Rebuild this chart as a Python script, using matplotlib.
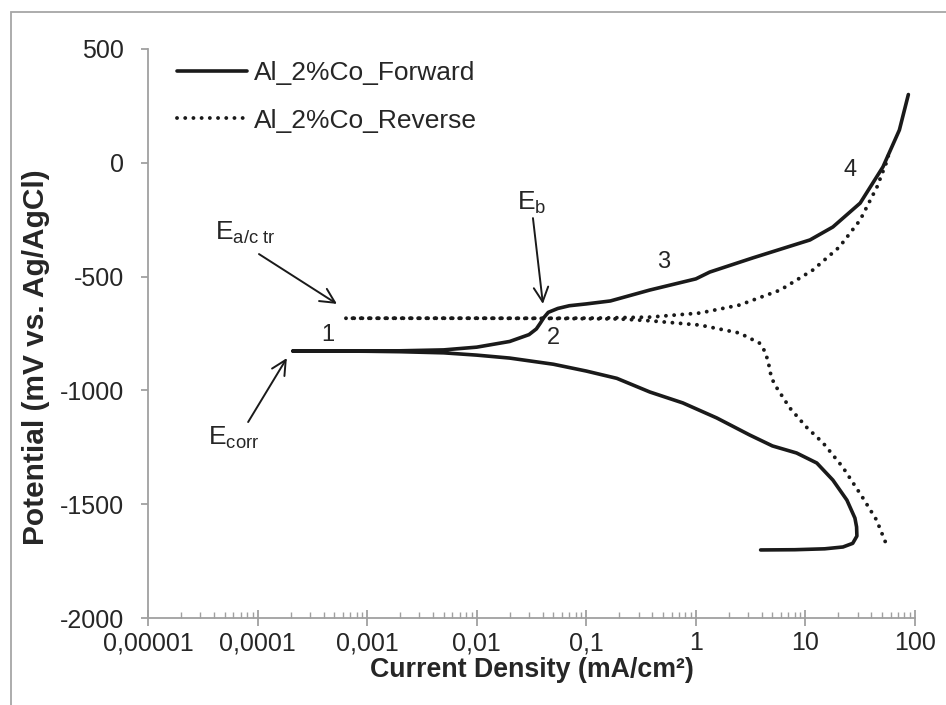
import numpy as np
import matplotlib
matplotlib.use("Agg")
import matplotlib.pyplot as plt
from matplotlib.patches import Rectangle
from matplotlib.ticker import FixedLocator, LogLocator, NullFormatter

plt.rcParams['font.family'] = ['Liberation Sans', 'DejaVu Sans']
plt.rcParams['mathtext.fontset'] = 'custom'
plt.rcParams['mathtext.rm'] = 'Liberation Sans'
plt.rcParams['mathtext.it'] = 'Liberation Sans'
plt.rcParams['axes.unicode_minus'] = False

# Forward scan: cathodic branch -> Ecorr -> anodic branch (mA/cm2, mV)
fwd_current = [3.9, 8.0, 15.0, 22.0, 27.0, 29.5, 29.3, 28.3, 23.9, 17.8, 12.7, 8.3, 5.0,
               3.1, 1.55, 0.76, 0.38, 0.19, 0.1, 0.05, 0.02, 0.01, 0.005, 0.002, 0.001,
               0.0005, 0.00021,
               0.0005, 0.001, 0.002, 0.005, 0.01, 0.02, 0.03, 0.035, 0.038, 0.041, 0.045,
               0.055, 0.07, 0.1, 0.166, 0.38, 1.0, 1.34, 3.3, 11.0, 17.8, 31.6, 51.0, 72.0, 87.0]
fwd_potential = [-1701, -1700, -1696, -1688, -1672, -1640, -1600, -1561, -1482, -1394, -1319, -1275, -1244,
                 -1196, -1121, -1055, -1007, -947, -915, -885, -858, -845, -835, -830, -828,
                 -827, -827,
                 -827, -827, -826, -822, -810, -785, -755, -730, -705, -680, -657,
                 -640, -628, -620, -607, -559, -510, -480, -418, -339, -282, -177, -18, 144, 300]

# Reverse scan: anodic branch down to the a/c transition, then cathodic branch
rev_current = [57.0, 55.0, 45.0, 31.6, 20.4, 11.7, 5.9, 2.5, 1.09, 0.38, 0.13, 0.05, 0.01, 0.002, 0.00063,
               0.002, 0.01, 0.05, 0.2, 0.38, 1.09, 2.5, 3.8, 4.3, 4.6, 4.9, 5.5, 7.2, 10.2, 14.5,
               21.9, 33.0, 44.5, 56.0]
rev_potential = [30, 3, -106, -251, -370, -471, -559, -625, -660, -678, -682, -683, -683, -683, -683,
                 -683, -683, -684, -686, -694, -713, -748, -792, -831, -880, -946, -990, -1077, -1161, -1231,
                 -1337, -1468, -1569, -1688]

x_ticks = [1e-5, 1e-4, 1e-3, 1e-2, 1e-1, 1, 10, 100]
x_tick_labels = ['0,00001', '0,0001', '0,001', '0,01', '0,1', '1', '10', '100']
y_ticks = [-2000, -1500, -1000, -500, 0, 500]

W, H = 946, 705
fig = plt.figure(figsize=(W / 100, H / 100), dpi=100)
ax = fig.add_axes([148 / W, 1 - 618 / H, (915 - 148) / W, (618 - 49) / H])

# outer chart frame
fig.patches.append(Rectangle((11 / W, -0.2), 1.5, 1.2 - 12 / H, transform=fig.transFigure,
                             fill=False, edgecolor='#a6a6a6', lw=1.3))

text_col = '#262626'
axis_col = '#a0a0a0'

ax.plot(rev_current, rev_potential, color='#1a1a1a', lw=2.8,
        linestyle=(0, (0.01, 2.1)), dash_capstyle='round', label='Al_2%Co_Reverse', zorder=2)
ax.plot(fwd_current, fwd_potential, color='#1a1a1a', lw=2.6, solid_capstyle='round',
        solid_joinstyle='round', label='Al_2%Co_Forward', zorder=3)

ax.set_xscale('log')
ax.set_xlim(1e-5, 100)
ax.set_ylim(-2000, 500)
ax.xaxis.set_major_locator(FixedLocator(x_ticks))
ax.set_xticklabels(x_tick_labels)
ax.xaxis.set_minor_locator(LogLocator(base=10, subs=np.arange(2, 10)))
ax.xaxis.set_minor_formatter(NullFormatter())
ax.set_yticks(y_ticks)

for s in ['top', 'right']:
    ax.spines[s].set_visible(False)
for s in ['left', 'bottom']:
    ax.spines[s].set_color(axis_col)
    ax.spines[s].set_linewidth(1.3)

ax.tick_params(axis='x', which='major', direction='inout', length=11, width=1.3, color=axis_col,
               labelsize=18, labelcolor=text_col, pad=4)
ax.tick_params(axis='x', which='minor', direction='in', length=4, width=1.0, color=axis_col)
ax.tick_params(axis='y', which='major', direction='out', length=5, width=1.3, color=axis_col,
               labelsize=18, labelcolor=text_col, pad=12)

ax.set_xlabel('Current Density (mA/cm²)', fontsize=19.3, fontweight='bold', color=text_col, labelpad=1)
ax.set_ylabel('Potential (mV vs. Ag/AgCl)', fontsize=21.5, fontweight='bold', color=text_col)
ax.yaxis.set_label_coords(-0.128, 0.4587)

handles, labels = ax.get_legend_handles_labels()
leg = ax.legend(handles[::-1], labels[::-1], loc='upper left', bbox_to_anchor=(0.0065, 1.021),
                frameon=False, fontsize=19, handlelength=2.65, handletextpad=0.27,
                labelspacing=0.9, labelcolor=text_col)

# region numbers
num_kw = dict(fontsize=17, color=text_col, ha='center', va='center')
ax.text(4.4e-4, -757, '1', **num_kw)
ax.text(0.0506, -770, '2', **num_kw)
ax.text(0.51, -436, '3', **num_kw)
ax.text(25.4, -32, '4', **num_kw)

# potential labels
lab_kw = dict(fontsize=19, color=text_col, ha='left', va='baseline')
ax.text(0.0233, -207, r'$\mathrm{E_{b}}$', **lab_kw)
ax.text(4.08e-5, -339, r'$\mathrm{E_{a/c\ tr}}$', **lab_kw)
ax.text(3.5e-5, -1240, r'$\mathrm{E_{corr}}$', **lab_kw)

arrow_kw = dict(arrowstyle='->', lw=1.4, color='#1a1a1a', mutation_scale=26,
                shrinkA=0, shrinkB=0)
ax.annotate('', xy=(1.85e-4, -858), xytext=(8.2e-5, -1139), arrowprops=arrow_kw)
ax.annotate('', xy=(5.3e-4, -620), xytext=(1.03e-4, -401), arrowprops=arrow_kw)
ax.annotate('', xy=(0.0402, -620), xytext=(0.0326, -243), arrowprops=arrow_kw)

fig.savefig('out.png', dpi=100)
